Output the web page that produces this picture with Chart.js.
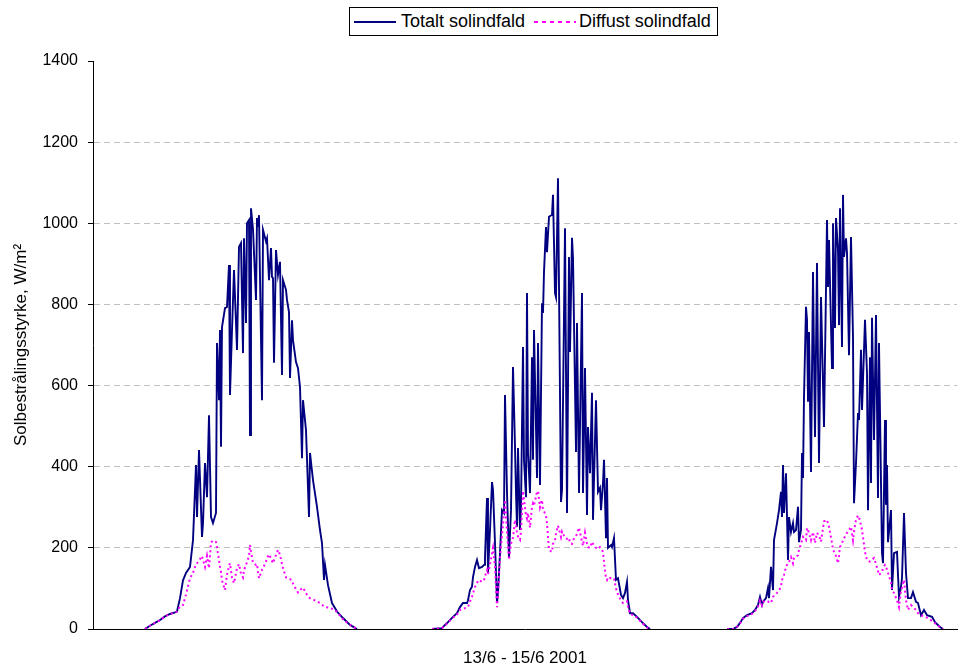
<!DOCTYPE html>
<html>
<head>
<meta charset="utf-8">
<script src="https://cdn.jsdelivr.net/npm/chart.js@4"></script>
<style>
  body { margin: 0; background: #fff; }
  #wrap { position: relative; width: 964px; height: 671px; }
  #legend {
    position: absolute; left: 349px; top: 7px; width: 369px; height: 29px;
    box-sizing: border-box; border: 1px solid #000; background: #fff;
    font: 18px "Liberation Sans", Arial, sans-serif; color: #000;
  }
  #legend .smp { position: absolute; top: 13px; width: 42px; height: 2px; }
  #legend .txt { position: absolute; top: 3px; line-height: 20px; white-space: nowrap; }
</style>
</head>
<body>
<div id="wrap">
  <canvas id="solChart" width="964" height="671"></canvas>
  <div id="legend">
    <span class="smp" style="left:4px;background:#000080"></span>
    <span class="txt" style="left:51px">Totalt solindfald</span>
    <span class="smp" style="left:184px;background:repeating-linear-gradient(90deg,#ff00ff 0 4px,transparent 4px 8px)"></span>
    <span class="txt" style="left:229px">Diffust solindfald</span>
  </div>
</div>
<script>
/* ── måledata 13/6 - 15/6 2001, W/m2 ── */
const yTicks = [0, 200, 400, 600, 800, 1000, 1200, 1400];

/* 13/6 */
const day1Times = ['04:20','04:45','05:10','05:35','06:00','06:25','06:50','07:00','07:15','07:30',
  '07:45','08:05','08:20','08:35','08:40','08:50','09:05','09:10','09:20','09:30',
  '09:40','09:50','10:00','10:15','10:20','10:30','10:35','10:40','10:45','11:00',
  '11:10','11:20','11:25','11:35','11:45','12:00','12:10','12:20','12:30','12:35',
  '12:45','12:50','13:00','13:05','13:10','13:20','13:35','13:40','13:45','13:50',
  '14:05','14:10','14:25','14:30','14:40','14:50','14:55','15:00','15:05','15:15',
  '15:25','15:35','15:45','15:50','16:05','16:10','16:20','16:25','16:35','16:40',
  '16:55','17:05','17:15','17:25','17:30','17:45','18:00','18:05','18:20','18:40',
  '18:55','19:05','19:15','19:20','19:35','19:55','20:20','20:50','21:25','22:00'];
const day1Total = [0,8,15,22,31,37,41,43,76,120,
  138,153,219,404,276,441,227,261,409,325,
  527,276,261,286,705,564,737,449,744,791,
  794,897,577,737,885,688,942,951,680,963,
  754,1000,1008,478,1037,985,811,1013,991,1020,
  564,984,955,963,860,939,868,865,656,934,
  873,905,626,860,836,811,781,619,761,712,
  658,643,597,421,564,490,276,434,367,301,
  244,212,121,158,108,64,43,27,10,0];
const day1Diffuse = [0,8,15,22,31,37,41,43,56,59,
  85,125,138,160,162,168,180,170,153,180,
  150,213,218,214,202,170,153,140,120,96,
  134,155,162,126,113,150,160,136,127,145,
  158,165,180,207,190,163,158,160,140,125,
  146,150,166,175,184,174,168,162,170,182,
  195,183,160,150,127,126,124,123,120,112,
  98,90,95,101,102,88,78,76,73,68,
  64,60,56,54,53,50,42,24,10,0];

/* 14/6 */
const day2Times = ['04:15','05:05','05:20','05:35','06:00','06:20','06:35','06:50','07:10','07:15',
  '07:25','07:35','07:40','07:50','08:00','08:10','08:25','08:35','08:40','08:50',
  '08:55','09:05','09:15','09:20','09:30','09:40','09:45','09:55','10:05','10:15',
  '10:20','10:30','10:40','10:50','11:00','11:10','11:15','11:20','11:25','11:35',
  '11:40','11:50','11:55','12:05','12:10','12:15','12:25','12:35','12:40','12:45',
  '13:00','13:05','13:15','13:25','13:30','13:35','13:45','13:50','14:00','14:15',
  '14:20','14:30','14:35','14:45','15:00','15:05','15:20','15:30','15:40','15:45',
  '15:55','16:00','16:15','16:20','16:30','16:45','16:50','17:00','17:10','17:15',
  '17:25','17:35','17:40','17:55','18:05','18:15','18:20','18:30','18:35','18:45',
  '18:50','18:55','19:10','19:15','19:25','19:35','19:45','20:00','20:10','20:20',
  '20:30','20:35','20:45','21:00','21:20','21:45','22:10','22:25'];
const day2Total = [0,2,10,17,30,39,54,64,64,71,
  96,104,128,153,170,150,153,158,175,323,
  138,244,362,343,212,64,91,187,293,286,
  577,335,175,293,646,449,335,252,446,244,
  301,695,417,325,828,434,335,670,417,737,
  372,705,355,803,779,880,991,929,1016,1021,
  1070,828,818,1111,313,343,988,286,917,683,
  964,914,436,754,335,828,335,643,281,498,
  384,582,269,564,338,348,293,360,417,224,
  372,200,207,202,224,121,125,84,76,89,
  116,71,39,39,30,17,5,0];
const day2Diffuse = [0,2,9,16,28,36,47,50,53,54,
  68,79,88,104,114,121,116,120,130,145,
  135,158,187,200,153,54,85,175,230,286,
  318,240,170,210,225,269,255,237,228,220,
  240,340,320,280,272,286,250,300,310,305,
  338,340,300,318,293,290,280,260,195,190,
  210,219,235,255,227,240,225,222,225,212,
  210,219,228,235,250,215,205,237,210,202,
  200,215,210,200,197,202,200,190,165,125,
  121,128,125,125,125,100,85,70,64,67,
  68,55,37,34,28,15,4,0];

/* 15/6 */
const day3Times = ['04:50','05:20','05:40','05:55','06:10','06:30','06:55','07:10','07:25','07:35',
  '07:45','07:50','08:05','08:15','08:20','08:30','08:40','08:45','09:00','09:10',
  '09:20','09:25','09:30','09:35','09:45','09:55','10:00','10:10','10:20','10:25',
  '10:35','10:45','10:50','11:00','11:05','11:10','11:15','11:25','11:30','11:35',
  '11:40','11:50','12:00','12:10','12:20','12:30','12:40','12:55','13:10','13:15',
  '13:20','13:35','13:40','13:50','13:55','14:05','14:10','14:15','14:25','14:30',
  '14:35','14:45','14:50','15:00','15:10','15:20','15:25','15:35','15:45','15:50',
  '16:00','16:05','16:20','16:30','16:35','16:45','16:50','16:55','17:05','17:15',
  '17:25','17:30','17:45','17:50','18:00','18:05','18:10','18:15','18:30','18:35',
  '18:45','19:00','19:10','19:20','19:25','19:35','19:45','19:55','20:10','20:20',
  '20:35','20:45','21:00','21:15','21:30','21:55','22:10','22:35','22:50'];
const day3Total = [0,0,5,15,27,34,39,47,59,79,
  59,67,76,101,76,153,96,219,261,293,
  338,276,404,286,384,170,276,239,261,239,
  244,301,214,244,434,372,572,794,762,560,
  732,387,880,473,902,409,818,498,1008,843,
  959,643,1000,742,1013,934,749,1037,695,1070,
  917,963,927,675,966,720,310,409,532,515,
  688,540,762,631,293,670,360,767,466,774,
  323,705,187,162,515,306,404,214,293,96,
  187,190,79,104,125,286,138,76,76,91,
  67,64,34,47,34,30,17,5,0];
const day3Diffuse = [0,0,5,14,25,32,37,44,55,70,
  59,67,70,68,66,64,79,82,89,94,
  105,121,127,133,153,163,165,177,162,175,
  178,182,195,210,219,227,224,219,249,243,
  237,219,239,212,237,230,215,265,269,260,
  252,212,195,187,180,162,180,202,212,218,
  224,232,237,244,252,219,240,270,280,275,
  256,244,190,170,168,166,168,170,175,160,
  143,133,141,150,158,155,145,138,115,96,
  89,71,54,95,101,121,71,47,59,54,
  47,39,34,31,28,20,14,4,0];

const allTimes   = [day1Times, day2Times, day3Times];
const allTotal   = [day1Total, day2Total, day3Total];
const allDiffuse = [day1Diffuse, day2Diffuse, day3Diffuse];

/* ── hjælpere ── */
const FONT = '"Liberation Sans", Arial, sans-serif';

function toHours(day, hhmm) {
  const [h, m] = hhmm.split(':').map(Number);
  return day * 24 + h + m / 60;
}

/* ét datasæt pr. serie, med brud mellem dagene */
function buildSeries(values) {
  const pts = [];
  allTimes.forEach((times, d) => {
    times.forEach((t, i) => pts.push({ x: toHours(d, t), y: values[d][i] }));
    pts.push({ x: (d + 1) * 24, y: null });
  });
  return pts;
}

new Chart(document.getElementById('solChart'), {
  type: 'line',
  data: {
    datasets: [
      {
        label: 'Diffust solindfald',
        data: buildSeries(allDiffuse),
        borderColor: '#ff00ff',
        borderWidth: 2,
        borderDash: [2, 3],
        pointRadius: 0,
        tension: 0,
        order: 0,
      },
      {
        label: 'Totalt solindfald',
        data: buildSeries(allTotal),
        borderColor: '#000080',
        borderWidth: 1.9,
        pointRadius: 0,
        tension: 0,
        order: 1,
      },
    ],
  },
  options: {
    responsive: false,
    animation: false,
    devicePixelRatio: 1,
    layout: { padding: { top: 61, right: 7, left: 0, bottom: 0 } },
    plugins: { legend: { display: false }, tooltip: { enabled: false } },
    scales: {
      x: {
        type: 'linear',
        min: 0,
        max: 72,
        ticks: { display: false },
        grid: { display: false },
        border: { display: true, color: '#000', width: 1 },
        title: {
          display: true,
          text: '13/6 - 15/6 2001',
          color: '#000',
          font: { family: FONT, size: 17 },
          padding: { top: 0, bottom: 2 },
        },
        afterFit: s => { s.height = 42; },
      },
      y: {
        min: 0,
        max: 1400,
        afterBuildTicks: s => { s.ticks = yTicks.map(v => ({ value: v })); },
        ticks: {
          color: '#000',
          padding: 10,
          font: { family: FONT, size: 16 },
          callback: v => String(v),
        },
        grid: {
          color: c => (c.tick && (c.tick.value === 0 || c.tick.value === 1400)) ? 'rgba(0,0,0,0)' : '#c0c0c0',
          lineWidth: 1,
          tickColor: '#000',
          tickLength: 5,
        },
        border: { display: true, color: '#000', width: 1, dash: [6, 4] },
        title: {
          display: true,
          text: 'Solbestrålingsstyrke, W/m²',
          color: '#000',
          font: { family: FONT, size: 17 },
          padding: { top: 11, bottom: 0 },
        },
        afterFit: s => { s.width = 93; },
      },
    },
  },
});
</script>
</body>
</html>
